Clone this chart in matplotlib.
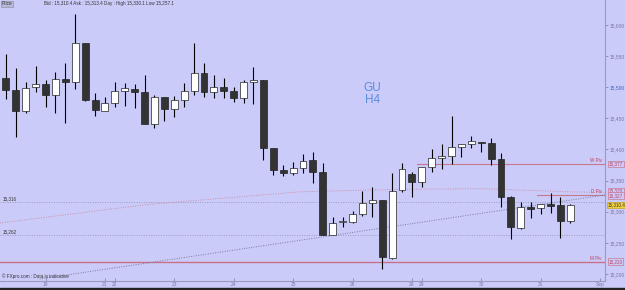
import numpy as np
import matplotlib.pyplot as plt
import matplotlib.transforms as mtransforms

plt.rcParams['font.family'] = ['Liberation Sans', 'DejaVu Sans']

# GBP/USD H4 candles
opens = [15515, 15496, 15462, 15500, 15505, 15488, 15513, 15508, 15571, 15480,
         15462, 15475, 15494, 15497, 15492, 15441, 15484, 15465, 15480, 15494,
         15523, 15492, 15500, 15494, 15483, 15508, 15512, 15402, 15367, 15362,
         15370, 15383, 15364, 15263, 15283, 15283, 15296, 15314, 15319, 15226,
         15335, 15361, 15348, 15372, 15386, 15390, 15404, 15409, 15412, 15410,
         15385, 15324, 15274, 15308, 15306, 15312, 15311, 15285]
closes = [15496, 15462, 15499, 15505, 15488, 15513, 15508, 15571, 15480, 15463,
          15475, 15494, 15499, 15492, 15441, 15484, 15465, 15480, 15494, 15523,
          15492, 15500, 15494, 15483, 15508, 15512, 15402, 15367, 15362, 15370,
          15382, 15364, 15263, 15282, 15284, 15296, 15314, 15319, 15227, 15333,
          15369, 15348, 15372, 15386, 15390, 15404, 15409, 15414, 15410, 15385,
          15324, 15275, 15308, 15304, 15312, 15309, 15285, 15310.4]
highs = [15553, 15531, 15508, 15534, 15512, 15525, 15539, 15618, 15571, 15491,
         15484, 15508, 15507, 15505, 15520, 15488, 15484, 15486, 15507, 15571,
         15539, 15520, 15515, 15500, 15512, 15533, 15512, 15402, 15375, 15380,
         15393, 15396, 15378, 15292, 15292, 15301, 15333, 15340, 15319, 15362,
         15378, 15364, 15372, 15401, 15409, 15454, 15409, 15422, 15412, 15418,
         15394, 15325, 15316, 15316, 15312, 15330, 15324, 15312]
lows = [15481, 15420, 15459, 15492, 15468, 15459, 15443, 15497, 15478, 15454,
        15462, 15468, 15470, 15467, 15441, 15435, 15446, 15452, 15468, 15488,
        15484, 15483, 15483, 15476, 15475, 15473, 15383, 15359, 15358, 15359,
        15362, 15346, 15263, 15263, 15275, 15282, 15293, 15292, 15208, 15224,
        15332, 15324, 15340, 15364, 15369, 15377, 15388, 15402, 15396, 15375,
        15308, 15256, 15272, 15290, 15296, 15298, 15258, 15282]

day_pos = [4, 10, 11, 17, 23, 29, 35, 41, 42, 48, 54, 60]
day_labels = ['19', '21', '22', '23', '24', '25', '26', '28', '29', '30', '31', 'Sep']
price_ticks = [15200, 15250, 15300, 15350, 15400, 15450, 15500, 15550, 15600]

# slow moving average (dotted pink) and trend line (dotted grey)
ma_x = [-0.6, 14.5, 29.7, 39.8, 47.9, 57.0, 60.5]
ma_y = [15282, 15312, 15332, 15336, 15337, 15332, 15331]
trend_x = [3.4, 60.5]
trend_y = [15192, 15327]

levels = [15316, 15262]
m_piv, w_piv, d_piv = 15220, 15377, 15327
w_start, d_start = 41.5, 53.6
bid = 15310.4

bg = '#cbcbf9'
fig = plt.figure(figsize=(6.25, 2.9), dpi=100)
fig.patch.set_facecolor(bg)
ax = fig.add_axes([0, 9 / 290, 605 / 625, 281 / 290])
ax.set_facecolor(bg)
ax.set_xlim(-0.6, 60.5)
ax.set_ylim(15188.8, 15640)

# lines behind candles
for lv in levels:
    ax.axhline(lv, color='#9a9ac0', lw=0.7, ls=(0, (1, 1.5)))
ax.axhline(m_piv, color='#c87088', lw=1.0)
ax.plot([w_start, 60.5], [w_piv, w_piv], color='#c87890', lw=0.8)
ax.plot([d_start, 60.5], [d_piv, d_piv], color='#c87890', lw=0.8)
ax.plot(ma_x, ma_y, color='#c890a8', lw=0.7, ls=(0, (1, 1.5)))
ax.plot(trend_x, trend_y, color='#7a7a9a', lw=0.7, ls=(0, (1, 1.5)))

x = np.arange(len(opens))
o = np.array(opens)
c = np.array(closes)
ax.vlines(x, lows, highs, color='black', lw=0.8, zorder=3)
body = np.maximum(np.abs(c - o), 1.6)
cols = np.where(c >= o, 'white', '#333333')
ax.bar(x, body, bottom=np.minimum(o, c), width=0.7, color=cols,
       edgecolor='#222222', lw=0.5, zorder=4)

# right price axis
ax.yaxis.tick_right()
ax.set_yticks(price_ticks)
ax.set_yticklabels([f'{p:,}' for p in price_ticks])
ax.tick_params(axis='y', length=2, width=0.5, pad=1, labelsize=3.5,
               colors='#7878a0')
ax.get_yticklabels()[6].set_color('#4060c0')
ax.set_xticks(day_pos)
ax.set_xticklabels(day_labels)
ax.tick_params(axis='x', length=2, width=0.5, pad=1, labelsize=3.5,
               colors='#7878a0', direction='in')
for s in ['top', 'left']:
    ax.spines[s].set_visible(False)
for s in ['right', 'bottom']:
    ax.spines[s].set_color('#9a9ac0')
    ax.spines[s].set_linewidth(0.8)

tr = mtransforms.blended_transform_factory(ax.transAxes, ax.transData)
for lv in levels:
    ax.text(0.005, lv + 1.5, f'{lv:,}', transform=tr, fontsize=3.3,
            color='#333333', va='bottom')
for name, val in [('W Piv', w_piv), ('D Piv', d_piv), ('M Piv', m_piv)]:
    ax.text(0.995, val + 1.5, name, transform=tr, fontsize=3.3,
            color='#c04060', ha='right', va='bottom')
box = dict(boxstyle='square,pad=0.15', fc=bg, ec='#c87890', lw=0.5)
for val, lbl in [(w_piv, '15,377'), (15333, '15,333'), (d_piv - 1, '15,327'),
                 (m_piv, '15,220')]:
    ax.text(1.006, val, lbl, transform=tr, fontsize=3.3, color='#c04060',
            va='center', bbox=box, clip_on=False)
ax.text(1.004, bid, '15,310.4', transform=tr, fontsize=3.3, color='#333333',
        va='center', clip_on=False,
        bbox=dict(boxstyle='square,pad=0.15', fc='#f0d040', ec='#c8a020', lw=0.5))

ax.text(0.615, 0.665, 'GU\nH4', transform=ax.transAxes, fontsize=8.5,
        color='#5a8ddc', ha='center', va='center', linespacing=1.0)

# header and footer
fig.text(0.003, 0.995, 'Price', fontsize=3.3, color='#333333', va='top',
         bbox=dict(boxstyle='square,pad=0.2', fc='#b8b8d8', ec='#888899', lw=0.4))
fig.text(0.07, 0.995, 'Bid : 15,310.4 Ask : 15,313.4 Day : High 15,330.1 Low 15,257.1',
         fontsize=3.3, color='#333333', va='top')
ax.text(0.003, 15192, '© FXpro.com : Data is indicative', transform=tr,
        fontsize=3.3, color='#333333', va='bottom')
fig.add_artist(plt.Rectangle((0, 0), 1, 2.5 / 290, transform=fig.transFigure,
                             color='#222222'))

fig.savefig('out.png', dpi=100, facecolor=bg)
